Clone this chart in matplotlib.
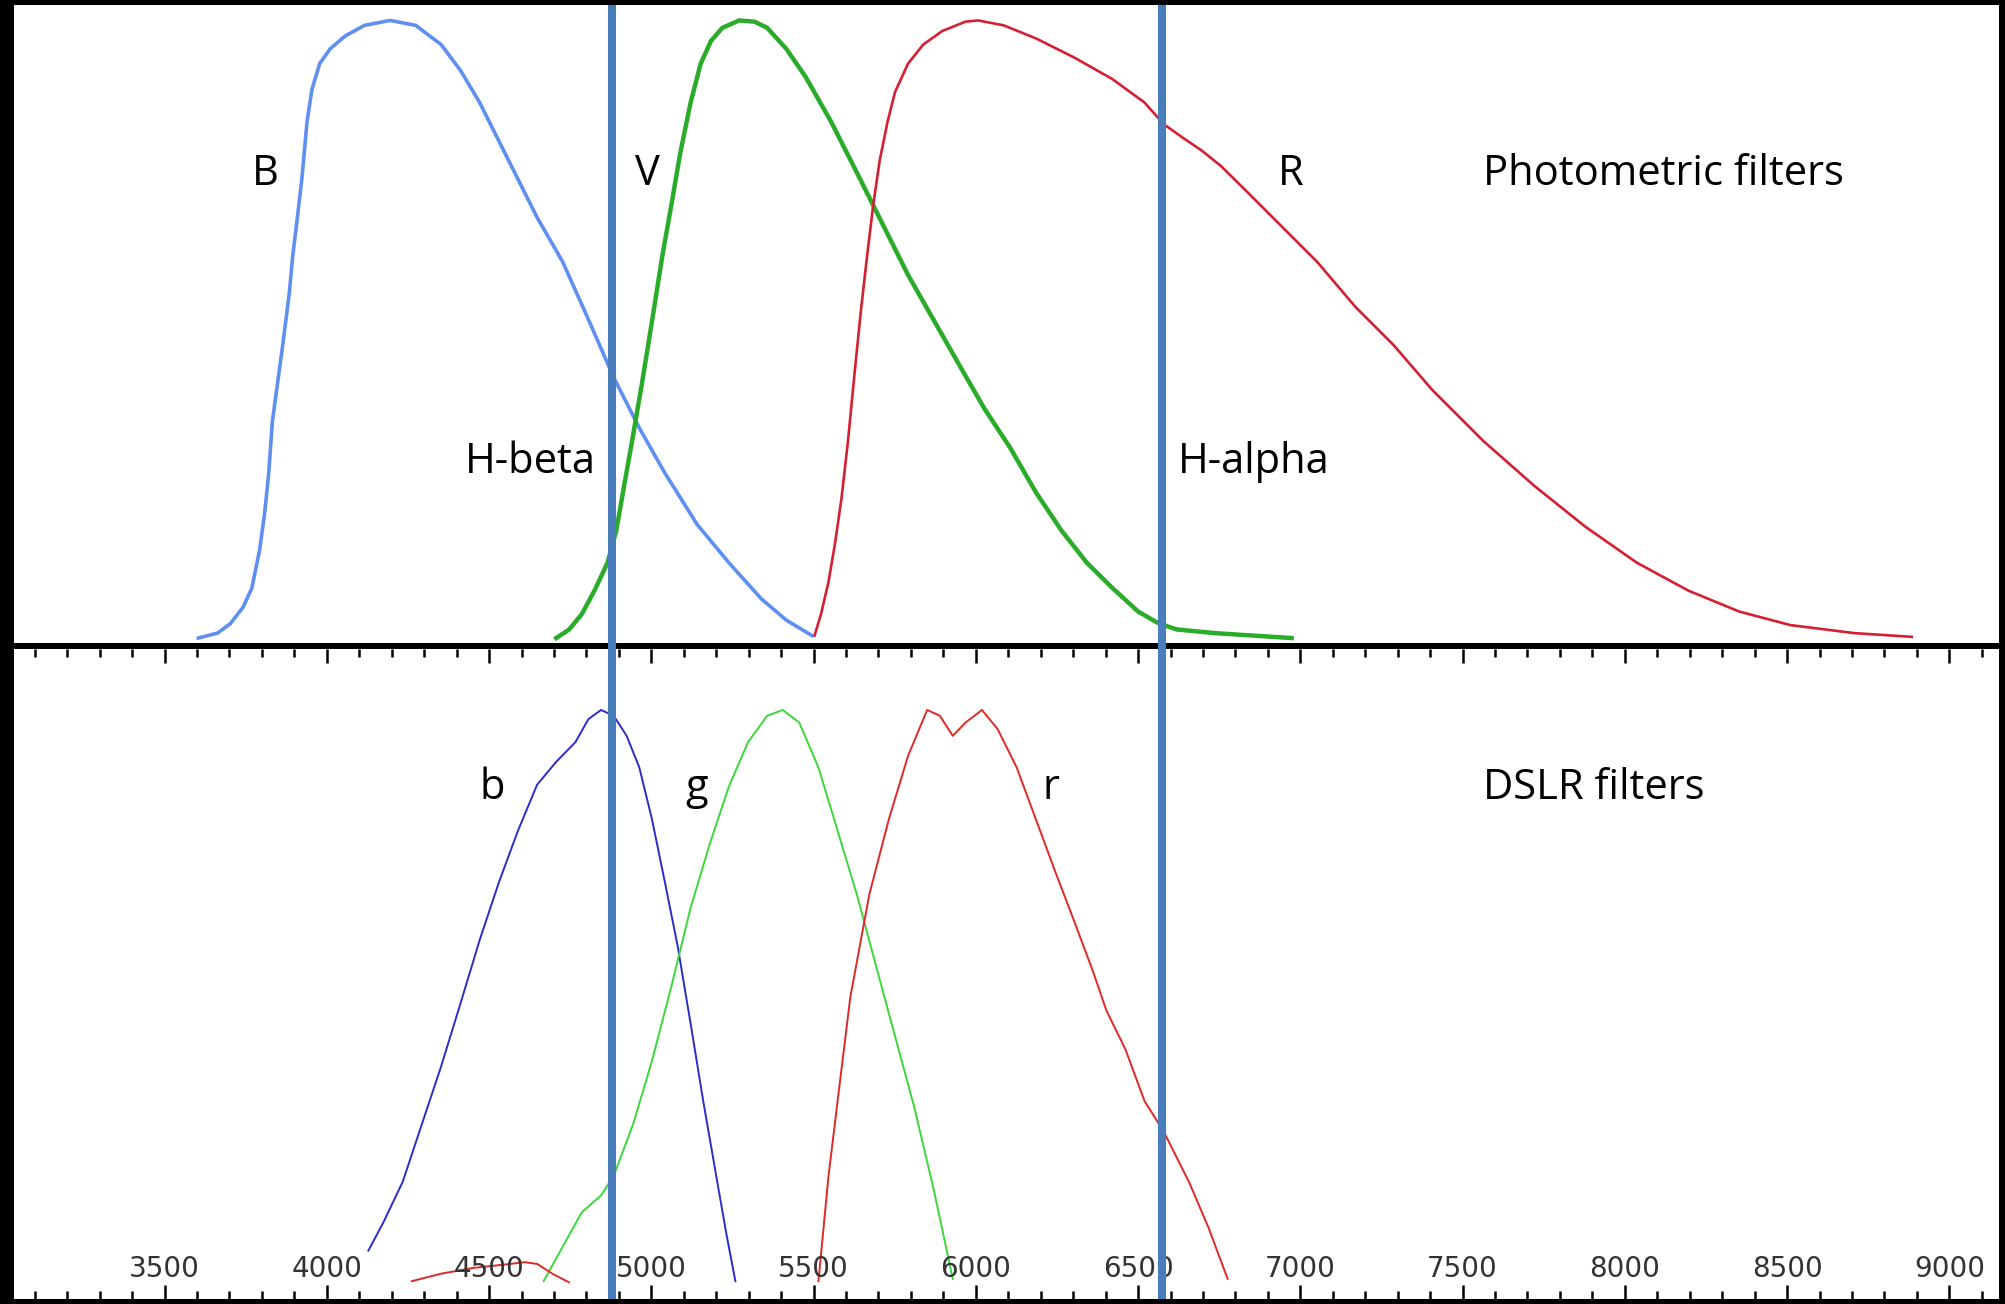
import numpy as np
import matplotlib
matplotlib.use("Agg")
import matplotlib.pyplot as plt
from matplotlib.ticker import MultipleLocator

# Photometric (Johnson) filters, relative transmission
B_wl = [3604, 3663, 3702, 3742, 3769, 3793, 3809, 3821, 3832, 3848, 3864, 3884, 3895, 3907, 3923,
        3939, 3954, 3978, 4010, 4057, 4116, 4195, 4274, 4352, 4412, 4471, 4530, 4589, 4648, 4727,
        4806, 4884, 4963, 5042, 5141, 5239, 5338, 5416, 5495]
B_tr = [0.0, 0.008, 0.023, 0.05, 0.081, 0.143, 0.205, 0.267, 0.35, 0.412, 0.474, 0.557, 0.619, 0.671, 0.743,
        0.836, 0.888, 0.93, 0.954, 0.975, 0.992, 1.0, 0.992, 0.961, 0.919, 0.867, 0.805, 0.743, 0.681, 0.609,
        0.516, 0.422, 0.34, 0.267, 0.184, 0.122, 0.064, 0.029, 0.004]

V_wl = [4707, 4747, 4786, 4825, 4865, 4892, 4916, 4944, 4971, 5003, 5034, 5062, 5089, 5121, 5152,
        5184, 5219, 5271, 5318, 5357, 5416, 5475, 5554, 5633, 5712, 5791, 5869, 5948, 6027, 6106,
        6185, 6264, 6342, 6421, 6500, 6559, 6618, 6736, 6855, 6973]
V_tr = [0.0, 0.014, 0.039, 0.077, 0.122, 0.174, 0.246, 0.329, 0.412, 0.516, 0.619, 0.702, 0.785, 0.867, 0.93,
        0.967, 0.988, 1.0, 0.998, 0.988, 0.954, 0.909, 0.836, 0.754, 0.671, 0.588, 0.516, 0.443, 0.371, 0.308,
        0.236, 0.174, 0.122, 0.081, 0.043, 0.025, 0.014, 0.008, 0.004, 0.0]

R_wl = [5503, 5523, 5546, 5566, 5586, 5606, 5625, 5645, 5665, 5684, 5704, 5728, 5751, 5791, 5838,
        5897, 5968, 6007, 6086, 6185, 6303, 6421, 6520, 6579, 6638, 6697, 6756, 6835, 6934, 7052,
        7170, 7288, 7406, 7564, 7722, 7879, 8037, 8195, 8352, 8510, 8707, 8884]
R_tr = [0.004, 0.039, 0.091, 0.153, 0.226, 0.319, 0.422, 0.526, 0.619, 0.702, 0.774, 0.836, 0.884, 0.93, 0.961,
        0.983, 0.998, 1.0, 0.992, 0.971, 0.94, 0.905, 0.867, 0.832, 0.81, 0.789, 0.764, 0.723, 0.671, 0.609,
        0.536, 0.474, 0.402, 0.319, 0.246, 0.18, 0.122, 0.077, 0.043, 0.021, 0.008, 0.002]

# DSLR (Bayer) channels, relative response
b_wl = [4128, 4175, 4234, 4293, 4352, 4412, 4471, 4530, 4589, 4648, 4707, 4766, 4806, 4845, 4884,
        4924, 4963, 5002, 5042, 5081, 5121, 5160, 5200, 5231, 5259]
b_tr = [0.06, 0.11, 0.18, 0.28, 0.38, 0.49, 0.60, 0.70, 0.79, 0.87, 0.91, 0.944, 0.984, 1.0, 0.99,
        0.955, 0.90, 0.81, 0.70, 0.59, 0.455, 0.32, 0.19, 0.09, 0.007]

g_wl = [4668, 4727, 4786, 4845, 4884, 4944, 5002, 5062, 5121, 5180, 5239, 5298, 5357, 5405, 5456,
        5515, 5574, 5633, 5692, 5751, 5810, 5870, 5929]
g_tr = [0.007, 0.067, 0.127, 0.156, 0.19, 0.28, 0.39, 0.52, 0.656, 0.767, 0.867, 0.944, 0.99, 1.0, 0.978,
        0.90, 0.79, 0.68, 0.556, 0.433, 0.31, 0.167, 0.011]

r_wl = [5515, 5546, 5574, 5613, 5672, 5732, 5791, 5850, 5889, 5929, 5968, 6019, 6067, 6126, 6185,
        6244, 6303, 6362, 6402, 6461, 6520, 6579, 6658, 6717, 6776]
r_tr = [0.007, 0.19, 0.32, 0.5, 0.68, 0.81, 0.92, 1.0, 0.99, 0.955, 0.978, 1.0, 0.967, 0.90, 0.81,
        0.72, 0.633, 0.544, 0.478, 0.41, 0.32, 0.267, 0.178, 0.1, 0.011]

# small blue leak of the red channel
r_leak_wl = [4262, 4352, 4451, 4550, 4609, 4648, 4695, 4746]
r_leak_tr = [0.007, 0.02, 0.03, 0.036, 0.04, 0.037, 0.02, 0.005]

lines_wl = [4880, 6575]   # H-beta, H-alpha
tick_vals = [3500, 4000, 4500, 5000, 5500, 6000, 6500, 7000, 7500, 8000, 8500, 9000]
tick_text = ["3500", "4000", "4500", "5000", "5500", "6000", "6500", "7000", "7500", "8000", "8500", "9000"]

W, H = 2005, 1304
xmin, xmax = 3036, 9153

fig = plt.figure(figsize=(W / 100, H / 100), dpi=100, facecolor="black")

def box(l, t, r, b):
    return [l / W, 1 - b / H, (r - l) / W, (b - t) / H]

# top panel
ax1 = fig.add_axes(box(14, 5, 1999, 643))
ax1.set_xlim(xmin, xmax)
ax1.set_ylim(-0.008, 1.025)
ax1.axis("off")
ax1.add_patch(plt.Rectangle((0, 0), 1, 1, transform=ax1.transAxes, color="white", zorder=0))
ax1.plot(B_wl, B_tr, color="#5f8ff0", lw=2.6)
ax1.plot(V_wl, V_tr, color="#2aac2a", lw=3.2)
ax1.plot(R_wl, R_tr, color="#d42030", lw=1.9)

lab = dict(family="Open Sans", fontsize=30, color="black", va="baseline")
ax1.text(3810, 0.734, "B", ha="center", **lab)
ax1.text(4987, 0.734, "V", ha="center", **lab)
ax1.text(6971, 0.734, "R", ha="center", **lab)
ax1.text(7563, 0.734, "Photometric filters", ha="left", **lab)
ax1.text(4830, 0.267, "H-beta", ha="right", **lab)
ax1.text(6623, 0.267, "H-alpha", ha="left", **lab)

# bottom panel
ax2 = fig.add_axes(box(14, 649, 1999, 1299))
ax2.set_xlim(xmin, xmax)
ax2.set_ylim(-0.024, 1.106)
ax2.set_facecolor("white")
for s in ax2.spines.values():
    s.set_visible(False)
ax2.set_yticks([])
ax2.xaxis.set_major_locator(MultipleLocator(500))
ax2.xaxis.set_minor_locator(MultipleLocator(100))
ax2.tick_params(axis="x", which="both", direction="in", top=True, bottom=True,
                labelbottom=False, color="black", width=1.8)
ax2.tick_params(axis="x", which="major", length=10)
ax2.tick_params(axis="x", which="minor", length=5.5)

ax2.plot(b_wl, b_tr, color="#2c2ccc", lw=1.4)
ax2.plot(g_wl, g_tr, color="#3ad83a", lw=1.4)
ax2.plot(r_wl, r_tr, color="#e02828", lw=1.4)
ax2.plot(r_leak_wl, r_leak_tr, color="#e02828", lw=1.4)

ax2.text(4509, 0.845, "b", ha="center", **lab)
ax2.text(5141, 0.845, "g", ha="center", **lab)
ax2.text(6232, 0.845, "r", ha="center", **lab)
ax2.text(7563, 0.845, "DSLR filters", ha="left", **lab)

for v, t in zip(tick_vals, tick_text):
    ax2.text(v, 0.028, t, ha="center", va="center", family="Liberation Sans Narrow",
             fontsize=20, color="#333333")

# vertical Balmer lines drawn over both panels
ax3 = fig.add_axes(box(14, 5, 1999, 1299))
ax3.set_xlim(xmin, xmax)
ax3.axis("off")
for v in lines_wl:
    ax3.axvline(v, color="#4a7ebb", lw=5.8)

fig.savefig("out.png", dpi=100, facecolor="black")
